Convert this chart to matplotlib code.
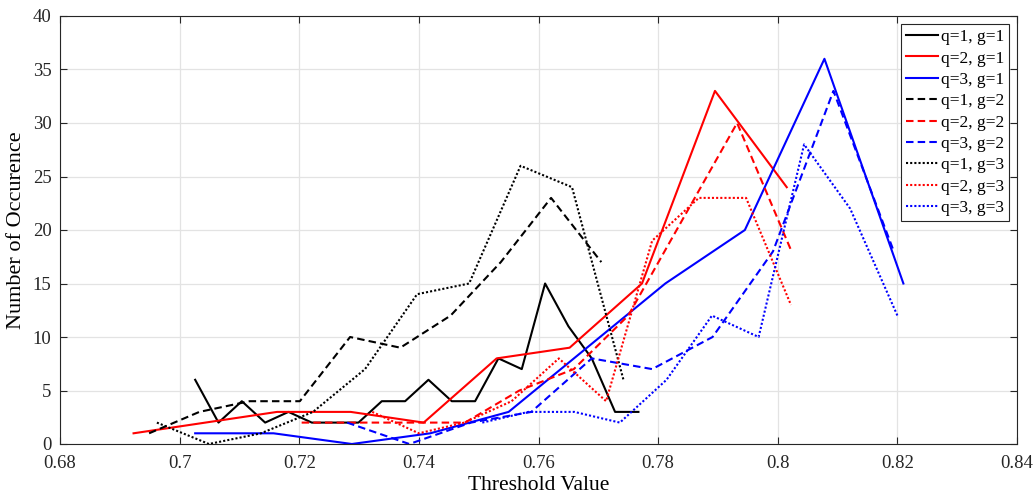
import matplotlib
matplotlib.use("Agg")
import matplotlib.pyplot as plt

plt.rcParams['font.family'] = ['Liberation Serif', 'DejaVu Serif']
plt.rcParams['mathtext.fontset'] = 'stix'

# q=1, g=1
x11 = [0.7026, 0.7065, 0.7104, 0.7143, 0.7182, 0.7221, 0.7260, 0.7299, 0.7338, 0.7377,
       0.7416, 0.7455, 0.7494, 0.7533, 0.7572, 0.7611, 0.7650, 0.7689, 0.7728, 0.7767]
y11 = [6, 2, 4, 2, 3, 2, 2, 2, 4, 4, 6, 4, 4, 8, 7, 15, 11, 8, 3, 3]
# q=2, g=1
x21 = [0.6923, 0.7043, 0.7163, 0.7286, 0.7408, 0.7530, 0.7652, 0.7773, 0.7895, 0.8015]
y21 = [1, 2, 3, 3, 2, 8, 9, 15, 33, 24]
# q=3, g=1
x31 = [0.7026, 0.7157, 0.7288, 0.7419, 0.7550, 0.7681, 0.7812, 0.7945, 0.8078, 0.8210]
y31 = [1, 1, 0, 1, 3, 9, 15, 20, 36, 15]
# q=1, g=2
x12 = [0.6949, 0.7033, 0.7117, 0.7201, 0.7285, 0.7369, 0.7453, 0.7537, 0.7621, 0.7705]
y12 = [1, 3, 4, 4, 10, 9, 12, 17, 23, 17]
# q=2, g=2
x22 = [0.7204, 0.7295, 0.7386, 0.7477, 0.7568, 0.7659, 0.7750, 0.7841, 0.7932, 0.8023]
y22 = [2, 2, 2, 2, 5, 7, 12, 21, 30, 18]
# q=3, g=2
x32 = [0.7280, 0.7384, 0.7487, 0.7588, 0.7689, 0.7790, 0.7891, 0.7992, 0.8093, 0.8194]
y32 = [2, 0, 2, 3, 8, 7, 10, 18, 33, 18]
# q=1, g=3
x13 = [0.6962, 0.7049, 0.7136, 0.7223, 0.7310, 0.7397, 0.7484, 0.7570, 0.7656, 0.7742]
y13 = [2, 0, 1, 3, 7, 14, 15, 26, 24, 6]
# q=2, g=3
x23 = [0.7322, 0.7400, 0.7476, 0.7555, 0.7634, 0.7713, 0.7790, 0.7868, 0.7947, 0.8022]
y23 = [3, 1, 2, 4, 8, 4, 19, 23, 23, 13]
# q=3, g=3
x33 = [0.7506, 0.7583, 0.7660, 0.7736, 0.7814, 0.7890, 0.7968, 0.8044, 0.8121, 0.8200]
y33 = [2, 3, 3, 2, 6, 12, 10, 28, 22, 12]

series = [
    (x11, y11, 'q=1, g=1'), (x21, y21, 'q=2, g=1'), (x31, y31, 'q=3, g=1'),
    (x12, y12, 'q=1, g=2'), (x22, y22, 'q=2, g=2'), (x32, y32, 'q=3, g=2'),
    (x13, y13, 'q=1, g=3'), (x23, y23, 'q=2, g=3'), (x33, y33, 'q=3, g=3'),
]
colors = ['black', '#ff0000', '#0000ff']
styles = ['-', (0, (3.6, 2.0)), (0, (1, 1))]

xticks = [0.68, 0.7, 0.72, 0.74, 0.76, 0.78, 0.8, 0.82, 0.84]
xticklabels = ['0.68', '0.7', '0.72', '0.74', '0.76', '0.78', '0.8', '0.82', '0.84']
yticks = [0, 5, 10, 15, 20, 25, 30, 35, 40]

fig = plt.figure(figsize=(10.36, 5.0), dpi=100)
ax = fig.add_axes([0.0579, 0.112, 0.9238, 0.856])

for i, (xs, ys, lab) in enumerate(series):
    ax.plot(xs, ys, color=colors[i % 3], linestyle=styles[i // 3], linewidth=1.5, label=lab)

ax.set_xlim(0.68, 0.84)
ax.set_ylim(0, 40)
ax.set_xticks(xticks)
ax.set_xticklabels(xticklabels)
ax.set_yticks(yticks)
ax.grid(True, color='#e3e3e3', linewidth=0.9)
ax.set_axisbelow(True)
ax.tick_params(direction='in', length=5, labelsize=13.5, colors='#262626', top=True, right=True)
ax.tick_params(axis='x', pad=8)
ax.tick_params(axis='y', pad=6)
for s in ax.spines.values():
    s.set_color('#262626')
    s.set_linewidth(0.8)
ax.set_xlabel('Threshold Value', fontsize=15.5, labelpad=3)
ax.set_ylabel('Number of Occurence', fontsize=16, labelpad=5)

leg = ax.legend(loc='upper right', fontsize=12.5, labelspacing=0.3, handlelength=1.85,
                handletextpad=0.15, borderpad=0.3, borderaxespad=0.45,
                fancybox=False, framealpha=1, edgecolor='#262626')
leg.get_frame().set_linewidth(0.8)

fig.savefig('out.png', dpi=100)
